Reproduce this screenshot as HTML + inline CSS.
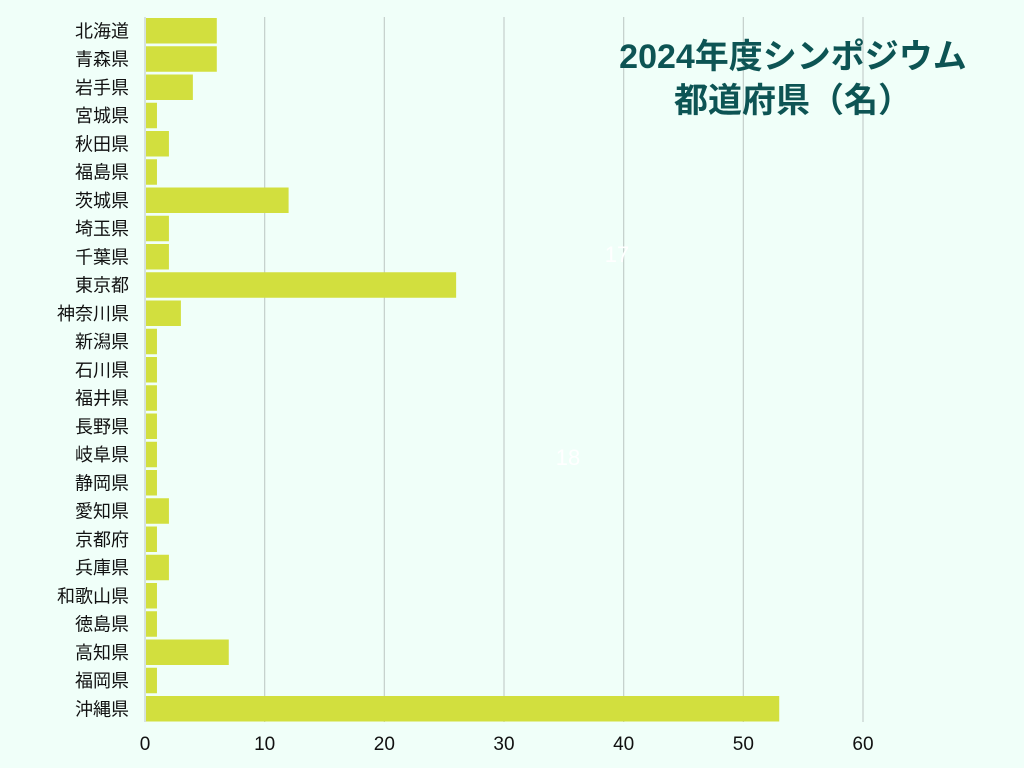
<!DOCTYPE html>
<html><head><meta charset="utf-8">
<style>
body{margin:0;background:#f0fff9;}
svg{display:block;font-family:"Liberation Sans","Noto Sans CJK JP",sans-serif;}
</style></head>
<body>
<svg id="chart" width="1024" height="768">
<rect width="1024" height="768" fill="#f0fff9"/>
<g id="grid"></g>
<g id="bars"></g>
<g id="ylabels"></g>
<g id="xlabels"></g>
<text x="793" y="68" text-anchor="middle" font-size="34" font-weight="bold" fill="#0d5454">2024年度シンポジウム</text>
<text x="793" y="112" text-anchor="middle" font-size="34" font-weight="bold" fill="#0d5454">都道府県（名）</text>
<text x="617" y="262" text-anchor="middle" font-size="22" fill="#ffffff">17</text>
<text x="568" y="465" text-anchor="middle" font-size="22" fill="#ffffff">18</text>
</svg>
<script>
const categories=["北海道","青森県","岩手県","宮城県","秋田県","福島県","茨城県","埼玉県","千葉県","東京都","神奈川県","新潟県","石川県","福井県","長野県","岐阜県","静岡県","愛知県","京都府","兵庫県","和歌山県","徳島県","高知県","福岡県","沖縄県"];
const values=[6,6,4,1,2,1,12,2,2,26,3,1,1,1,1,1,1,2,1,2,1,1,7,1,53];
const xTicks=[0,10,20,30,40,50,60];
const NS="http://www.w3.org/2000/svg";
const x0=145,x1=863,xMax=60,yTop=17,pitch=28.25,bh=25.5;
function xs(v){return x0+(x1-x0)*v/xMax;}
function ys(i){return yTop+i*pitch;}
const grid=document.getElementById('grid'),bars=document.getElementById('bars'),yl=document.getElementById('ylabels'),xl=document.getElementById('xlabels');
xTicks.forEach(t=>{
 const l=document.createElementNS(NS,'line');
 l.setAttribute('x1',xs(t));l.setAttribute('x2',xs(t));l.setAttribute('y1',17);l.setAttribute('y2',722);
 l.setAttribute('stroke','#c4cfcb');l.setAttribute('stroke-width','1.2');
 
 
 grid.appendChild(l);
 const tx=document.createElementNS(NS,'text');
 tx.setAttribute('x',xs(t));tx.setAttribute('y',750);tx.setAttribute('text-anchor','middle');
 tx.setAttribute('font-size','19');tx.setAttribute('fill','#111');tx.textContent=t;
 
 
 xl.appendChild(tx);
});
categories.forEach((c,i)=>{
 const r=document.createElementNS(NS,'rect');
 r.setAttribute('x',xs(0)+1);r.setAttribute('y',ys(i)+1);
 r.setAttribute('width',Math.max(0,xs(values[i])-xs(0)-1));r.setAttribute('height',bh);
 r.setAttribute('fill','#d2df3e');
 
 
 bars.appendChild(r);
 const t=document.createElementNS(NS,'text');
 t.setAttribute('x',129);t.setAttribute('y',ys(i)+bh/2+7.5);t.setAttribute('text-anchor','end');
 t.setAttribute('font-size','18');t.setAttribute('fill','#111');t.textContent=c;
 
 
 yl.appendChild(t);
});
</script>
</body></html>
